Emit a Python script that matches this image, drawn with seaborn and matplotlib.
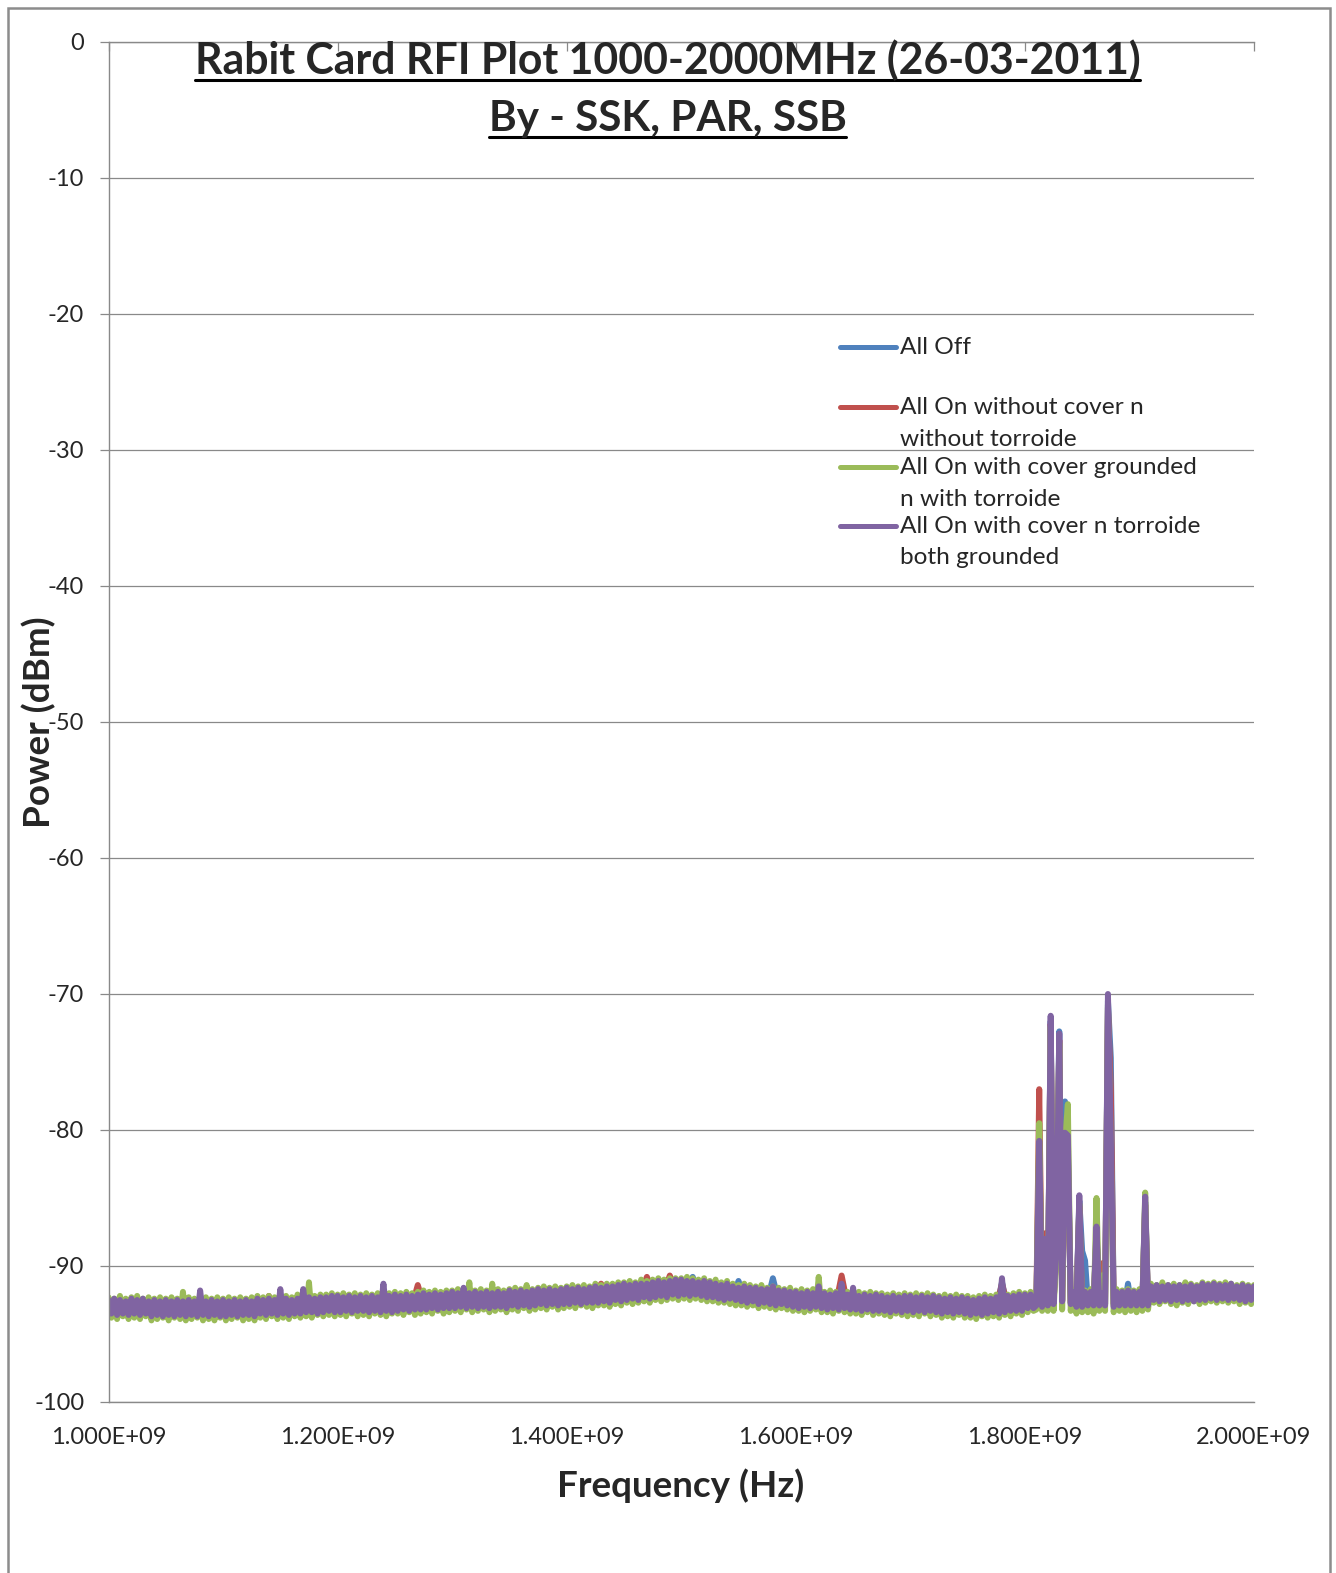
import numpy as np
import pandas as pd
import seaborn as sns
import matplotlib.pyplot as plt
from matplotlib.lines import Line2D
from matplotlib.patches import Rectangle
from matplotlib.ticker import FuncFormatter, MultipleLocator

sns.set_style("white")
plt.rcParams['font.family'] = ['Lato', 'DejaVu Sans']
plt.rcParams['axes.unicode_minus'] = False

# sweep points in MHz
# the two "on with cover" traces are read every 2.5 MHz, the other two every 5 MHz
# (2.5 MHz through the interference cluster)
freq_fine = np.arange(1000, 2000.1, 2.5)
freq_coarse = np.r_[1000:1800:5, 1800:1910:2.5, 1910:2001:5]

labels = ['All Off',
          'All On without cover n\nwithout torroide',
          'All On with cover grounded\nn with torroide',
          'All On with cover n torroide\nboth grounded']
colors = ['#4F81BD', '#C0504D', '#9BBB59', '#8064A2']

all_off = [
    # 1000 - 1795 MHz
    -92.7, -93.3, -92.7, -93.3, -92.7, -93.3, -92.7, -93.4, -92.8, -93.4,
    -92.8, -93.4, -92.8, -93.4, -92.8, -93.4, -92.3, -93.4, -92.8, -93.4,
    -92.8, -93.4, -92.8, -93.4, -92.8, -93.4, -92.7, -93.3, -92.7, -93.3,
    -92.7, -93.3, -92.7, -93.2, -92.6, -93.2, -92.6, -93.2, -92.5, -93.1,
    -92.5, -93.1, -92.5, -93.1, -92.5, -93.1, -92.5, -93.1, -92.0, -93.1,
    -92.4, -93.0, -92.4, -93.0, -92.4, -92.9, -92.3, -92.9, -92.3, -92.9,
    -92.2, -92.8, -92.2, -92.8, -92.2, -92.8, -92.2, -92.8, -92.2, -92.8,
    -92.1, -92.7, -92.1, -92.7, -92.1, -92.6, -92.0, -92.6, -92.0, -92.6,
    -91.9, -92.5, -91.9, -92.5, -91.9, -92.4, -91.8, -92.4, -91.7, -92.3,
    -91.6, -92.2, -91.6, -92.1, -91.5, -92.0, -91.4, -92.0, -91.3, -91.9,
    -91.3, -91.9, -90.8, -92.0, -91.4, -92.1, -91.5, -92.2, -91.6, -92.3,
    -91.1, -92.4, -91.8, -92.5, -91.9, -92.6, -90.9, -92.6, -92.1, -92.7,
    -92.2, -92.8, -92.2, -92.8, -92.2, -92.9, -92.3, -92.9, -92.3, -92.9,
    -92.4, -93.0, -92.4, -93.0, -92.4, -93.1, -92.5, -93.1, -92.5, -93.1,
    -92.5, -93.1, -92.5, -93.1, -92.5, -93.2, -92.6, -93.2, -92.6, -93.2,
    -92.7, -93.3, -92.7, -93.2, -92.6, -93.2, -91.2, -93.1, -92.5, -93.0,
    # 1800 - 1907.5 MHz
    -92.3, -92.9, -92.3, -92.9, -92.8, -81.2, -92.9, -88.4, -92.8, -72.0,
    -92.7, -88.8, -72.75, -92.5, -77.9, -81.5, -92.7, -92.2, -92.8, -85.2,
    -88.9, -89.6, -92.7, -92.2, -92.7, -87.6, -92.8, -92.2, -92.8, -70.5,
    -74.7, -92.8, -92.2, -92.7, -92.2, -92.7, -91.3, -92.7, -92.2, -92.7,
    -92.2, -92.8, -85.3, -92.7,
    # 1910 - 2000 MHz
    -91.7, -92.3, -91.7, -92.3, -91.7, -92.3, -91.6, -92.3, -91.7, -92.2,
    -91.6, -92.2, -91.6, -92.2, -91.6, -92.2, -91.7, -92.3, -91.7,
]

on_no_cover = [
    -92.8, -93.2, -92.8, -93.3, -92.8, -93.2, -92.8, -93.3, -92.9, -93.3,
    -92.9, -93.3, -92.9, -93.4, -92.9, -93.3, -92.3, -93.3, -92.9, -93.4,
    -92.9, -93.3, -92.9, -93.4, -92.9, -93.3, -92.8, -93.2, -92.2, -93.2,
    -92.8, -93.2, -92.8, -93.1, -92.7, -93.1, -92.7, -93.2, -92.6, -93.0,
    -92.6, -93.0, -92.6, -93.1, -92.6, -93.0, -92.6, -93.0, -92.1, -93.0,
    -92.5, -92.9, -92.5, -92.9, -91.4, -92.8, -92.4, -92.8, -92.4, -92.8,
    -92.3, -92.7, -92.3, -92.7, -92.3, -92.7, -92.3, -92.7, -92.3, -92.7,
    -92.2, -92.6, -92.2, -92.6, -92.2, -92.5, -92.1, -92.5, -92.1, -92.5,
    -92.0, -92.4, -92.0, -92.4, -92.0, -92.3, -91.3, -92.3, -91.8, -92.2,
    -91.7, -92.1, -91.7, -92.0, -90.8, -91.9, -91.5, -91.9, -90.7, -91.8,
    -91.4, -91.8, -91.4, -91.9, -91.5, -92.0, -91.6, -92.1, -91.7, -92.2,
    -91.9, -92.3, -91.9, -92.4, -92.0, -92.5, -92.1, -92.5, -92.2, -92.6,
    -92.3, -92.7, -92.3, -92.7, -92.3, -92.8, -92.4, -92.8, -90.7, -92.8,
    -92.5, -92.9, -92.5, -92.9, -92.5, -93.0, -92.6, -93.0, -92.6, -93.0,
    -92.6, -93.0, -92.6, -93.0, -92.6, -93.1, -92.7, -93.1, -92.7, -93.1,
    -92.8, -93.2, -92.8, -93.1, -92.7, -93.1, -91.3, -93.0, -92.5, -92.9,
    -92.4, -92.8, -92.4, -92.8, -92.8, -77.0, -92.9, -87.6, -92.8, -72.2,
    -92.7, -88.9, -73.4, -92.6, -81.2, -81.8, -92.7, -92.2, -92.8, -85.6,
    -92.9, -92.2, -92.7, -92.2, -92.7, -87.8, -92.8, -89.8, -92.8, -71.0,
    -77.0, -92.8, -92.2, -92.7, -92.2, -92.7, -92.1, -92.7, -92.2, -92.7,
    -92.2, -92.8, -85.5, -92.7,
    -91.8, -92.2, -91.8, -92.2, -91.8, -92.2, -91.7, -92.2, -91.8, -92.1,
    -91.7, -92.1, -91.7, -92.1, -91.7, -92.1, -91.8, -92.2, -91.8,
]

on_cover_gnd = [
    # 1000 - 1797.5 MHz
    -92.3, -93.8, -92.4, -93.9, -92.2, -93.7, -92.4, -93.9, -92.3, -93.8,
    -92.2, -93.9, -92.4, -93.7, -92.3, -94.0, -92.4, -93.9, -92.3, -93.8,
    -92.4, -94.0, -92.3, -93.8, -92.4, -93.9, -91.9, -94.0, -92.3, -93.9,
    -92.4, -93.8, -92.4, -94.0, -92.3, -93.9, -92.4, -94.0, -92.3, -93.8,
    -92.4, -94.0, -92.3, -93.9, -92.4, -93.8, -92.3, -94.0, -92.4, -93.9,
    -92.3, -94.0, -92.2, -93.8, -92.3, -93.9, -92.2, -93.7, -92.3, -93.9,
    -92.3, -93.8, -92.2, -93.9, -92.3, -93.7, -92.1, -93.8, -92.2, -93.7,
    -91.2, -93.8, -92.2, -93.6, -92.1, -93.7, -92.1, -93.6, -92.0, -93.7,
    -92.1, -93.6, -92.0, -93.7, -92.1, -93.5, -92.0, -93.7, -92.1, -93.6,
    -92.0, -93.7, -92.1, -93.5, -92.0, -93.6, -92.1, -93.7, -92.0, -93.5,
    -91.9, -93.5, -92.0, -93.6, -91.9, -93.4, -92.0, -93.6, -91.9, -93.5,
    -91.8, -93.4, -91.9, -93.5, -91.8, -93.3, -91.9, -93.5, -91.8, -93.4,
    -91.8, -93.3, -91.7, -93.4, -91.8, -93.2, -91.2, -93.4, -91.8, -93.3,
    -91.7, -93.2, -91.8, -93.4, -91.3, -93.3, -91.7, -93.2, -91.8, -93.4,
    -91.7, -93.2, -91.6, -93.3, -91.7, -93.1, -91.4, -93.3, -91.7, -93.2,
    -91.6, -93.1, -91.5, -93.2, -91.6, -93.0, -91.5, -93.2, -91.6, -93.1,
    -91.5, -93.0, -91.4, -93.1, -91.5, -92.9, -91.4, -93.0, -91.5, -93.1,
    -91.3, -92.9, -91.4, -92.9, -91.3, -93.0, -91.3, -92.8, -91.2, -92.9,
    -91.2, -92.7, -91.1, -92.8, -91.2, -92.7, -91.0, -92.6, -91.1, -92.7,
    -91.0, -92.5, -90.9, -92.6, -91.0, -92.5, -90.9, -92.4, -90.9, -92.5,
    -90.9, -92.4, -90.8, -92.5, -90.9, -92.4, -91.0, -92.5, -90.9, -92.6,
    -91.1, -92.6, -91.0, -92.7, -91.2, -92.7, -91.1, -92.8, -91.3, -92.9,
    -91.4, -92.9, -91.3, -93.0, -91.4, -92.9, -91.5, -93.1, -91.4, -93.0,
    -91.6, -93.1, -91.5, -93.2, -91.6, -93.1, -91.7, -93.2, -91.6, -93.3,
    -91.8, -93.3, -91.7, -93.4, -91.8, -93.3, -91.7, -93.2, -90.8, -93.4,
    -91.9, -93.4, -91.8, -93.5, -91.9, -93.3, -91.8, -93.4, -91.9, -93.5,
    -92.0, -93.5, -91.9, -93.6, -92.0, -93.4, -91.9, -93.6, -92.0, -93.5,
    -92.0, -93.6, -92.1, -93.7, -92.0, -93.5, -92.1, -93.6, -92.0, -93.7,
    -92.1, -93.6, -92.0, -93.7, -92.1, -93.5, -92.0, -93.7, -92.1, -93.6,
    -92.2, -93.8, -92.1, -93.7, -92.2, -93.8, -92.1, -93.6, -92.2, -93.8,
    -92.2, -93.8, -92.3, -93.9, -92.2, -93.7, -92.1, -93.8, -92.2, -93.7,
    -92.1, -93.8, -92.0, -93.6, -92.1, -93.7, -92.0, -93.5, -91.9, -93.6,
    # 1800 - 1907.5 MHz
    -92.0, -93.4, -91.9, -93.3, -93.2, -79.5, -93.3, -88.6, -93.3, -72.4,
    -93.3, -89.0, -73.6, -93.2, -81.0, -78.1, -93.3, -91.8, -93.5, -85.4,
    -93.4, -91.8, -93.4, -91.7, -93.5, -85.0, -93.3, -90.7, -93.3, -70.8,
    -81.5, -93.4, -91.7, -93.3, -91.8, -93.4, -91.7, -93.3, -91.8, -93.4,
    -91.7, -93.3, -84.6, -93.2,
    # 1910 - 2000 MHz
    -91.3, -92.7, -91.4, -92.8, -91.2, -92.6, -91.4, -92.8, -91.3, -92.9,
    -91.4, -92.7, -91.2, -92.8, -91.3, -92.6, -91.4, -92.8, -91.2, -92.7,
    -91.3, -92.6, -91.2, -92.7, -91.3, -92.6, -91.2, -92.7, -91.3, -92.6,
    -91.4, -92.8, -91.3, -92.7, -91.4, -92.8, -91.4,
]

on_both_gnd = [
    # 1000 - 1797.5 MHz
    -92.5, -93.5, -92.4, -93.6, -92.5, -93.5, -92.6, -93.6, -92.4, -93.5,
    -92.5, -93.6, -92.4, -93.5, -92.6, -93.7, -92.5, -93.6, -92.6, -93.7,
    -92.5, -93.6, -92.6, -93.7, -92.5, -93.6, -92.6, -93.7, -92.5, -93.6,
    -92.6, -93.7, -91.8, -93.6, -92.6, -93.7, -92.5, -93.6, -92.6, -93.7,
    -92.5, -93.7, -92.6, -93.6, -92.5, -93.7, -92.6, -93.6, -92.5, -93.6,
    -92.6, -93.7, -92.4, -93.5, -92.5, -93.6, -92.4, -93.5, -92.5, -93.6,
    -91.7, -93.5, -92.4, -93.6, -92.5, -93.5, -92.4, -93.5, -91.7, -93.4,
    -92.3, -93.4, -92.4, -93.5, -92.3, -93.4, -92.3, -93.3, -92.2, -93.4,
    -92.2, -93.4, -92.3, -93.3, -92.2, -93.4, -92.3, -93.3, -92.2, -93.3,
    -92.3, -93.4, -92.2, -93.3, -92.3, -93.4, -91.3, -93.3, -92.2, -93.4,
    -92.1, -93.3, -92.2, -93.2, -92.1, -93.3, -92.2, -93.2, -92.1, -93.2,
    -92.0, -93.2, -92.1, -93.1, -92.0, -93.2, -92.1, -93.1, -92.0, -93.1,
    -91.9, -93.1, -92.0, -93.0, -91.6, -93.1, -92.0, -93.0, -91.9, -93.1,
    -92.0, -93.0, -91.9, -93.1, -92.0, -93.0, -91.9, -93.0, -92.0, -93.1,
    -91.8, -92.9, -91.9, -93.0, -91.8, -92.9, -91.9, -93.0, -91.8, -92.9,
    -91.7, -92.8, -91.8, -92.9, -91.7, -92.8, -91.8, -92.9, -91.7, -92.8,
    -91.6, -92.8, -91.7, -92.7, -91.6, -92.8, -91.7, -92.7, -91.6, -92.7,
    -91.5, -92.7, -91.6, -92.6, -91.5, -92.7, -91.5, -92.5, -91.4, -92.6,
    -91.3, -92.5, -91.4, -92.4, -91.3, -92.5, -91.3, -92.3, -91.3, -92.4,
    -91.2, -92.3, -91.1, -92.2, -91.2, -92.3, -91.1, -92.1, -91.0, -92.2,
    -91.0, -92.1, -91.1, -92.2, -91.1, -92.1, -91.2, -92.2, -91.1, -92.3,
    -91.2, -92.3, -91.3, -92.4, -91.4, -92.5, -91.3, -92.4, -91.5, -92.5,
    -91.6, -92.6, -91.5, -92.7, -91.6, -92.6, -91.6, -92.8, -91.7, -92.7,
    -91.7, -92.8, -91.5, -92.9, -91.8, -92.8, -91.8, -92.9, -91.9, -93.0,
    -91.9, -93.1, -92.0, -93.0, -91.9, -93.1, -92.0, -93.0, -91.5, -93.1,
    -92.0, -93.2, -92.1, -93.1, -92.0, -93.2, -91.3, -93.1, -92.1, -93.2,
    -91.6, -93.2, -92.2, -93.3, -92.1, -93.2, -92.2, -93.3, -92.1, -93.3,
    -92.2, -93.3, -92.3, -93.4, -92.2, -93.3, -92.3, -93.4, -92.2, -93.3,
    -92.2, -93.4, -92.3, -93.3, -92.2, -93.4, -92.3, -93.3, -92.2, -93.4,
    -92.3, -93.5, -92.4, -93.4, -92.3, -93.5, -92.4, -93.4, -92.3, -93.5,
    -92.4, -93.6, -92.5, -93.5, -92.4, -93.6, -92.3, -93.5, -92.4, -93.4,
    -92.3, -93.5, -90.9, -93.4, -92.2, -93.3, -92.2, -93.3, -92.1, -93.3,
    # 1800 - 1907.5 MHz
    -92.1, -93.1, -92.1, -93.1, -92.9, -80.8, -93.0, -88.0, -92.9, -71.6,
    -92.8, -88.4, -72.9, -92.6, -80.2, -80.4, -92.8, -91.9, -93.0, -84.8,
    -93.0, -91.9, -92.9, -91.9, -92.9, -87.1, -92.9, -92.0, -92.9, -70.0,
    -80.5, -93.0, -91.9, -92.9, -91.9, -92.9, -91.8, -92.9, -91.9, -92.9,
    -91.9, -92.9, -84.9, -92.9,
    # 1910 - 2000 MHz
    -91.5, -92.5, -91.4, -92.6, -91.5, -92.5, -91.4, -92.6, -91.5, -92.5,
    -91.4, -92.6, -91.5, -92.5, -91.4, -92.6, -91.5, -92.5, -91.3, -92.5,
    -91.4, -92.4, -91.3, -92.5, -91.4, -92.4, -91.4, -92.5, -91.3, -92.4,
    -91.5, -92.5, -91.4, -92.6, -91.5, -92.5, -91.5,
]

title_lines = ['Rabit Card RFI Plot 1000-2000MHz (26-03-2011)', 'By - SSK, PAR, SSB']

traces = [(freq_coarse, all_off), (freq_coarse, on_no_cover),
          (freq_fine, on_cover_gnd), (freq_fine, on_both_gnd)]
df = pd.concat([
    pd.DataFrame({'freq': f * 1e6, 'power': vals, 'series': lab})
    for lab, (f, vals) in zip(labels, traces)
])

W, H = 1336, 1573
fig = plt.figure(figsize=(W / 100, H / 100), dpi=100)
L, R, T, B = 108.5, 1254, 42, 1402
ax = fig.add_axes([L / W, 1 - B / H, (R - L) / W, (B - T) / H])

sns.lineplot(data=df, x='freq', y='power', hue='series', hue_order=labels,
             palette=colors, linewidth=4.3, estimator=None, sort=False,
             legend=False, ax=ax)

gray = '#898989'
ax.set_xlim(1e9, 2e9)
ax.set_ylim(-100, 0)
ax.yaxis.set_major_locator(MultipleLocator(10))
ax.xaxis.set_major_locator(MultipleLocator(2e8))
ax.xaxis.set_major_formatter(FuncFormatter(lambda v, p: f'{v:.3E}'))
ax.grid(axis='y', color=gray, linewidth=0.9)
ax.grid(axis='x', visible=False)
ax.set_axisbelow(True)
for side in ['top', 'left', 'bottom']:
    ax.spines[side].set_color(gray)
    ax.spines[side].set_linewidth(1.0)
ax.spines['right'].set_visible(False)
ax.tick_params(axis='y', left=True, direction='out', length=6.5, width=0.9,
               color=gray, pad=11, labelsize=17)
# horizontal axis crosses at 0, labels sit low
ax.tick_params(axis='x', top=True, bottom=False, direction='in', length=6.5,
               width=0.9, color=gray, labeltop=False, labelbottom=True,
               pad=18, labelsize=17)
ax.set_xlabel('')
ax.set_ylabel('')

fig.text(38.6 / W, 1 - 722 / H, 'Power (dBm)', rotation=90, ha='center',
         va='center', fontsize=26.5, fontweight='bold')
fig.text(681 / W, 1 - 1486 / H, 'Frequency (Hz)', ha='center', va='center',
         fontsize=26.5, fontweight='bold')

# legend drawn by hand, Excel style (handle on the first line)
legend_y = [347, 407, 466.5, 525.5]
for lab, col, hy in zip(labels, colors, legend_y):
    fig.add_artist(Line2D([840 / W, 896 / W], [1 - hy / H] * 2, transform=fig.transFigure,
                          color=col, lw=3.6, solid_capstyle='round'))
    for k, line in enumerate(lab.split('\n')):
        fig.text(900 / W, 1 - (hy + 7.5 + 31.5 * k) / H, line, ha='left',
                 va='baseline', fontsize=17.6)

title_texts = []
for line, by, fs in zip(title_lines, [74.2, 131.4], [30.8, 30.3]):
    title_texts.append(fig.text(667.5 / W, 1 - by / H, line, ha='center', va='baseline',
                                fontsize=fs, fontweight='bold'))

fig.patches.append(Rectangle((7.5 / W, -0.05), (1329.5 - 7.5) / W, 1.05 - 7.5 / H,
                             transform=fig.transFigure, fill=False,
                             edgecolor='#8c8c8c', linewidth=1.8))

fig.canvas.draw()
renderer = fig.canvas.get_renderer()
for t, uy in zip(title_texts, [79.5, 136.5]):
    bb = t.get_window_extent(renderer)
    fig.add_artist(Line2D([bb.x0 / W, bb.x1 / W], [1 - uy / H] * 2,
                          transform=fig.transFigure, color='black', lw=2.2))

fig.savefig('out.png', dpi=100)
